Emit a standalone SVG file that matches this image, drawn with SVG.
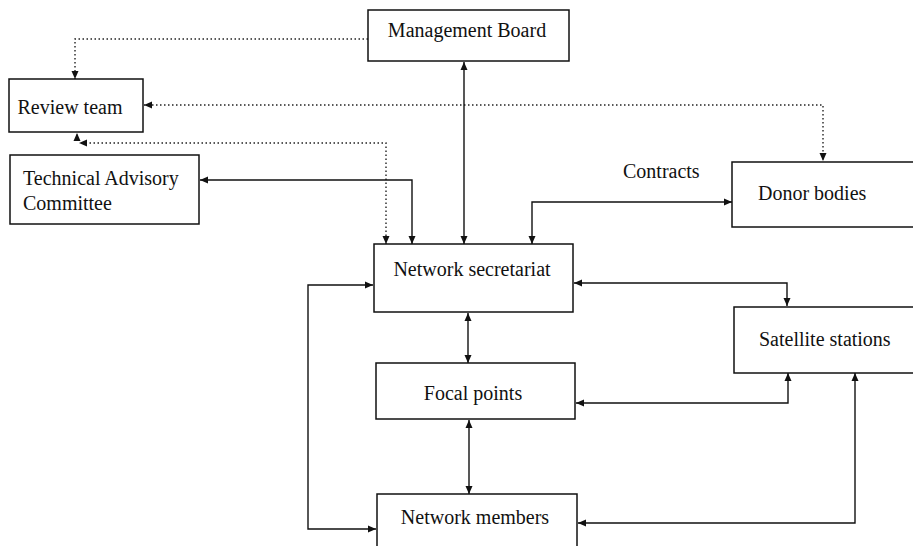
<svg xmlns="http://www.w3.org/2000/svg" width="913" height="546" viewBox="0 0 913 546">
<style>
.box{fill:#fff;stroke:#111;stroke-width:1.5}
.lbl{font-family:"Liberation Serif","Times New Roman",serif;font-size:20px;fill:#111}
.c{text-anchor:middle}
.line{fill:none;stroke:#111;stroke-width:1.4}
.dot{fill:none;stroke:#222;stroke-width:1.4;stroke-dasharray:1.5,2.5}
</style>
<defs>
<marker id="ah" viewBox="0 0 8 8" refX="8" refY="4" markerWidth="8" markerHeight="8" markerUnits="userSpaceOnUse" orient="auto-start-reverse">
<path d="M0,0.5 L8,4 L0,7.5 z" fill="#111"/>
</marker>
</defs>
<rect width="913" height="546" fill="#fff"/>
<g id="connectors">
<path class="dot" d="M368,39 H75 V79" marker-end="url(#ah)"/>
<path class="dot" d="M144,105 H823 V161" marker-start="url(#ah)" marker-end="url(#ah)"/>
<path class="dot" d="M386,244 V143 H79" marker-start="url(#ah)" marker-end="url(#ah)"/>
<path class="dot" d="M77,140 V133" marker-end="url(#ah)"/>
<path class="line" d="M200,180 H412 V244" marker-start="url(#ah)" marker-end="url(#ah)"/>
<path class="line" d="M464,62 V244" marker-start="url(#ah)" marker-end="url(#ah)"/>
<path class="line" d="M532,244 V202 H732" marker-start="url(#ah)" marker-end="url(#ah)"/>
<path class="line" d="M574,283 H787 V306" marker-start="url(#ah)" marker-end="url(#ah)"/>
<path class="line" d="M468,313 V363" marker-start="url(#ah)" marker-end="url(#ah)"/>
<path class="line" d="M788,373 V403 H576" marker-start="url(#ah)" marker-end="url(#ah)"/>
<path class="line" d="M469,420 V494" marker-start="url(#ah)" marker-end="url(#ah)"/>
<path class="line" d="M855,373 V523 H578" marker-start="url(#ah)" marker-end="url(#ah)"/>
<path class="line" d="M373,285 H308 V529 H376" marker-start="url(#ah)" marker-end="url(#ah)"/>
<text class="lbl" x="623" y="178">Contracts</text>
</g>
<g id="management-board">
<rect class="box" x="368" y="10" width="201" height="51"/>
<text class="lbl c" x="467" y="37">Management Board</text>
</g>
<g id="review-team">
<rect class="box" x="9" y="79" width="134" height="53"/>
<text class="lbl c" x="70" y="114">Review team</text>
</g>
<g id="technical-advisory-committee">
<rect class="box" x="10" y="155" width="189" height="69"/>
<text class="lbl" x="23" y="185">Technical Advisory</text>
<text class="lbl" x="23" y="210">Committee</text>
</g>
<g id="network-secretariat">
<rect class="box" x="374" y="244" width="199" height="68"/>
<text class="lbl c" x="472" y="276">Network secretariat</text>
</g>
<g id="donor-bodies">
<rect class="box" x="732" y="162" width="200" height="65"/>
<text class="lbl" x="758" y="200">Donor bodies</text>
</g>
<g id="satellite-stations">
<rect class="box" x="734" y="307" width="200" height="66"/>
<text class="lbl" x="759" y="346">Satellite stations</text>
</g>
<g id="focal-points">
<rect class="box" x="376" y="363" width="199" height="56"/>
<text class="lbl c" x="473" y="400">Focal points</text>
</g>
<g id="network-members">
<rect class="box" x="377" y="494" width="200" height="70"/>
<text class="lbl c" x="475" y="524">Network members</text>
</g>
</svg>
